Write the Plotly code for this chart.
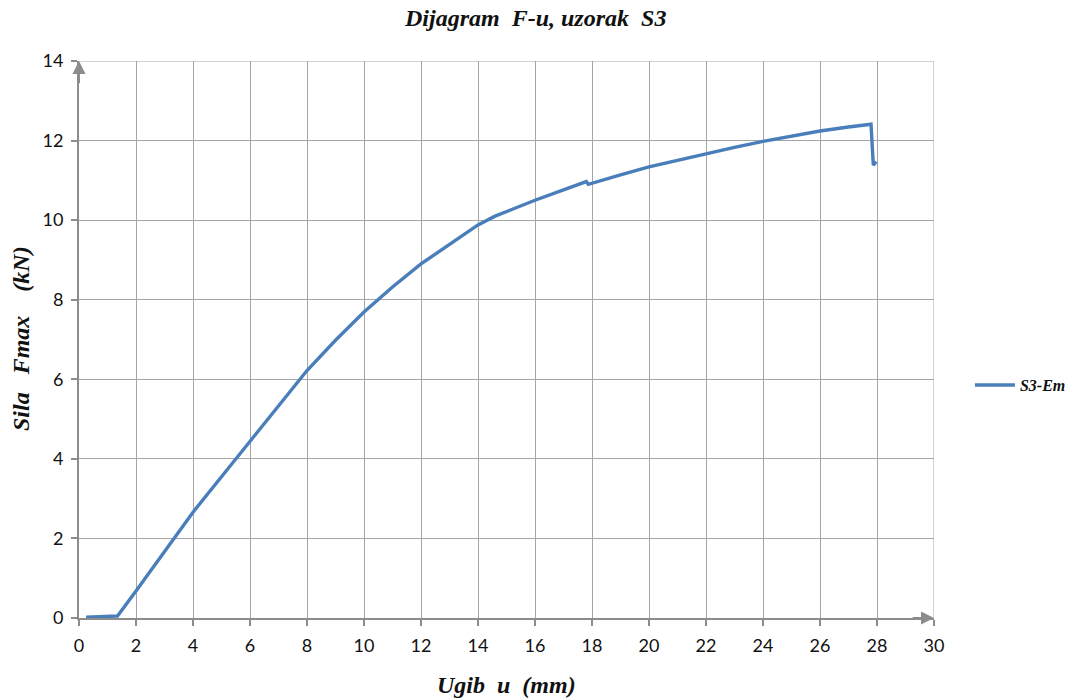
import plotly.graph_objects as go

# Data
u_mm = [0.25, 0.8, 1.35, 2.0, 3.31, 4.0, 5.0, 5.51, 6.0, 7.0, 7.74, 8.0, 9.0, 10.0, 10.49, 11.0, 12.0,
        13.0, 13.4, 14.0, 14.6, 15.0, 16.0, 17.0, 17.8, 17.87, 18.0, 19.0, 20.0, 21.0, 22.0, 23.0,
        24.0, 25.0, 26.0, 27.0, 27.79, 27.87, 27.97]
F_kN = [0.02, 0.03, 0.05, 0.68, 1.98, 2.66, 3.55, 4.0, 4.44, 5.33, 6.0, 6.22, 6.98, 7.69, 8.0, 8.32, 8.9,
        9.4, 9.6, 9.88, 10.1, 10.22, 10.5, 10.76, 10.97, 10.9, 10.93, 11.14, 11.34, 11.51, 11.67, 11.83,
        11.98, 12.12, 12.24, 12.34, 12.41, 11.38, 11.47]

x_ticks = list(range(0, 31, 2))
y_ticks = list(range(0, 15, 2))

series_name = "S3-Em"
title_text = "Dijagram\u00a0 F-u, uzorak\u00a0 S3"
x_title = "Ugib\u00a0 u\u00a0 (mm)"
y_title = "Sila\u00a0\u00a0 Fmax\u00a0\u00a0\u00a0 (kN)"

serif = "Liberation Serif, Times New Roman, serif"
tickfont = dict(family="Lato, Open Sans, sans-serif", size=18, color="#111111")
grid = "#a6a6a6"
axis_col = "#8c8c8c"
ink = "#111111"

fig = go.Figure()
fig.add_trace(go.Scatter(x=u_mm, y=F_kN, mode="lines", name="<b><i>" + series_name + "</i></b>",
                         line=dict(color="#4a7ebb", width=3.4)))

fig.update_layout(
    width=1080, height=699,
    paper_bgcolor="white", plot_bgcolor="white",
    margin=dict(l=79, r=146, t=61, b=81, autoexpand=False),
    showlegend=True,
    legend=dict(x=1.042, y=0.418, xanchor="left", yanchor="middle",
                font=dict(family=serif, size=16, color=ink), itemwidth=40,
                bgcolor="rgba(0,0,0,0)"),
    xaxis=dict(range=[0, 30], tickvals=x_ticks, showgrid=True, gridcolor=grid, gridwidth=1,
               zeroline=False, showline=True, linecolor=axis_col, linewidth=2,
               ticks="outside", ticklen=6, tickcolor=axis_col, tickwidth=1.5,
               tickfont=tickfont, ticklabelstandoff=4, automargin=False),
    yaxis=dict(range=[0, 14], tickvals=y_ticks, showgrid=True, gridcolor=grid, gridwidth=1,
               zeroline=False, showline=True, linecolor=axis_col, linewidth=2,
               ticks="outside", ticklen=6, tickcolor=axis_col, tickwidth=1.5,
               tickfont=tickfont, ticklabelstandoff=4, automargin=False),
)

# chart title and axis titles
fig.add_annotation(text="<b><i>" + title_text + "</i></b>", xref="paper", yref="paper",
                   x=(535 - 79) / 855, y=(618 - 18) / 557, xanchor="center", yanchor="middle",
                   showarrow=False, font=dict(family=serif, size=24, color=ink))
fig.add_annotation(text="<b><i>" + x_title + "</i></b>", xref="paper", yref="paper",
                   x=(506 - 79) / 855, y=(618 - 685) / 557, xanchor="center", yanchor="middle",
                   showarrow=False, font=dict(family=serif, size=24, color=ink))
fig.add_annotation(text="<b><i>" + y_title + "</i></b>", xref="paper", yref="paper",
                   x=(21 - 79) / 855, y=(618 - 339) / 557, xanchor="center", yanchor="middle",
                   textangle=-90, showarrow=False, font=dict(family=serif, size=24, color=ink))

# right and top border lines (grid at 30 and 14)
fig.add_shape(type="line", xref="x", yref="paper", x0=30, x1=30, y0=0, y1=1,
              line=dict(color=grid, width=1))
fig.add_shape(type="line", xref="paper", yref="y", x0=0, x1=1, y0=14, y1=14,
              line=dict(color=grid, width=1))

# axis arrowheads
fig.add_annotation(x=30, y=0, xref="x", yref="y", ax=29.2, ay=0, axref="x", ayref="y",
                   showarrow=True, arrowhead=2, arrowsize=1.3, arrowwidth=2,
                   arrowcolor=axis_col, text="")
fig.add_annotation(x=0, y=14, xref="x", yref="y", ax=0, ay=13.4, axref="x", ayref="y",
                   showarrow=True, arrowhead=2, arrowsize=1.3, arrowwidth=2,
                   arrowcolor=axis_col, text="")

fig.write_html("out.html", config={"displayModeBar": False},
               post_script="document.body.style.margin='0px';")
